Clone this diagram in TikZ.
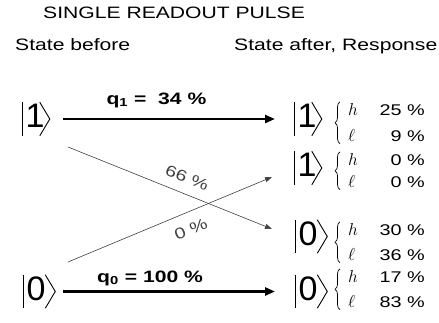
\documentclass[tikz,border=0pt]{standalone}
\usepackage{fontspec}
\setmainfont{Liberation Sans}
\usepackage{graphicx}
\usepackage{amsmath}
\usetikzlibrary{arrows.meta,calc,decorations.pathreplacing}

\newcommand{\widetxt}[1]{\scalebox{1.28}[1]{#1}}
% bar and angle of a ket round the digit node #1
\newcommand{\ketmarks}[3]{%
  \draw[ketline] ([xshift=#2]#1.north west) -- ([xshift=#2]#1.south west);
  \draw[ketline] ([xshift=#3]#1.north east) -- ([xshift=#3+10pt]#1.east) -- ([xshift=#3]#1.south east);}

\begin{document}
\begin{tikzpicture}[x=1pt, y=-1pt, >=Latex,
    lbl/.style={inner sep=0pt, font=\fontsize{16.5}{20}\selectfont},
    qlbl/.style={inner sep=0pt, anchor=base, font=\fontsize{16.5}{19}\selectfont\bfseries},
    plbl/.style={inner sep=0pt, font=\fontsize{15.5}{19}\selectfont},
    ket/.style={inner sep=0pt, anchor=base west, text height=25pt, text depth=8pt, font=\fontsize{34}{40}\selectfont},
    ketline/.style={line width=0.9pt, line join=miter},
    pct/.style={inner sep=0pt, anchor=base east, font=\fontsize{15.5}{19}\selectfont},
    hl/.style={inner sep=0pt, anchor=base west, font=\fontsize{17}{20}\selectfont},
    bold arrow/.style={line width=2.6pt, -{Triangle[length=10pt,width=8pt]}},
    thin arrow/.style={line width=0.6pt, black!75, -{Triangle[length=7pt,width=5pt]}},
    resp/.style={decorate, decoration={brace, amplitude=5pt}, line width=0.7pt}]
  \useasboundingbox (0,0) rectangle (439,322);

  \node[lbl, anchor=base west] (title) at (43,18.5) {\widetxt{SINGLE READOUT PULSE}};
  \node[lbl, anchor=base west] (before) at (15,50) {\widetxt{State before}};
  \node[lbl, anchor=base west] (after) at (234,50) {\widetxt{State after, Response}};

  \node[ket] (in1) at (25.5,127.5) {1};
  \node[ket] (in0) at (26.5,300) {0};
  \node[ket] (out1) at (297.5,127.5) {1};
  \node[ket] (out2) at (297.5,176.5) {1};
  \node[ket] (out3) at (298.5,245) {0};
  \node[ket] (out4) at (298.5,300) {0};
  \ketmarks{in1}{-3pt}{-5pt}
  \ketmarks{out1}{-3pt}{-5pt}
  \ketmarks{out2}{-3pt}{-5pt}
  \ketmarks{in0}{-3.5pt}{-0.5pt}
  \ketmarks{out3}{-3.5pt}{-0.5pt}
  \ketmarks{out4}{-3.5pt}{-0.5pt}

  \foreach \k/\yh/\yl/\ph/\pl in {1/115/141/25/9, 2/165/187/0/0, 3/235/260/30/36, 4/282/307/17/83} {
    \node[hl] (h\k) at (348,\yh) {$h$};
    \node[hl] (l\k) at (348,\yl) {$\ell$};
    \node[pct] (ph\k) at (425,\yh) {\widetxt{\ph\ \%}};
    \node[pct] (pl\k) at (425,\yl) {\widetxt{\pl\ \%}};
    \draw[resp] ([xshift=-8pt, yshift=-2.5pt]l\k.south west) -- ([xshift=-8pt, yshift=1pt]h\k.north west);
  }

  \draw[bold arrow] ([xshift=18.5pt]in1.east) -- ([xshift=-22.5pt]out1.west)
    node[qlbl, pos=0.44, yshift=15pt] {\widetxt{q\textsubscript{1} =\ \ 34 \%}};
  \draw[bold arrow] ([xshift=17.5pt]in0.east) -- ([xshift=-23.5pt]out4.west)
    node[qlbl, pos=0.41, yshift=9.5pt] {\widetxt{q\textsubscript{0} = 100 \%}};

  \coordinate (c1) at (68,147);
  \coordinate (c2) at (272,229);
  \coordinate (c3) at (68,262);
  \coordinate (c4) at (272,177);
  \draw[thin arrow] (c1) -- (c2) node[plbl, pos=0.555, sloped, above=10pt] {\widetxt{66 \%}};
  \draw[thin arrow] (c3) -- (c4) node[plbl, pos=0.57, sloped, below=11pt] {\widetxt{0 \%}};
\end{tikzpicture}
\end{document}
